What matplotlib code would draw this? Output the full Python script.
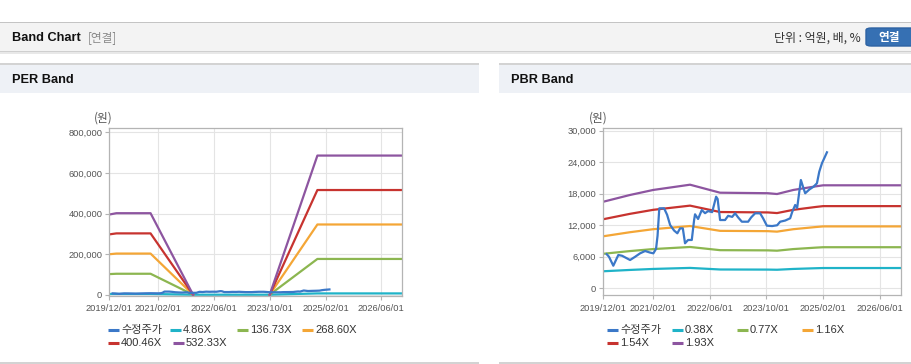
import matplotlib
matplotlib.use('Agg')
import matplotlib.pyplot as plt
import matplotlib.dates as mdates
from matplotlib.patches import Rectangle, FancyBboxPatch
from matplotlib.lines import Line2D
import numpy as np
import pandas as pd

plt.rcParams['font.family'] = ['Liberation Sans', 'Noto Sans CJK KR']

# ---------------- data ----------------
price_label = '수정주가'
price_dates = ['2019-12-30', '2020-01-19', '2020-02-25', '2020-04-08', '2020-05-10', '2020-06-13',
               '2020-07-18', '2020-08-30', '2020-10-12', '2020-11-24', '2021-01-06', '2021-02-03',
               '2021-02-26', '2021-03-11', '2021-03-26', '2021-05-06', '2021-06-01', '2021-06-27',
               '2021-07-31', '2021-08-28', '2021-09-20', '2021-10-14', '2021-11-02', '2021-11-28',
               '2021-12-30', '2022-01-19', '2022-01-27', '2022-02-22', '2022-03-26', '2022-04-23',
               '2022-05-19', '2022-06-23', '2022-07-27', '2022-08-09', '2022-08-30', '2022-10-12',
               '2022-11-07', '2022-12-12', '2023-01-06', '2023-02-01', '2023-03-05', '2023-04-28',
               '2023-05-24', '2023-06-27', '2023-08-09', '2023-09-04', '2023-10-06', '2023-11-20',
               '2024-01-02', '2024-01-28', '2024-03-11', '2024-04-23', '2024-05-10', '2024-06-05',
               '2024-06-22', '2024-07-24', '2024-08-09', '2024-08-30', '2024-10-04', '2024-11-10',
               '2024-12-09', '2024-12-29', '2025-01-21', '2025-03-05']
price_values = [6500, 6000, 4300, 6340, 6200, 5800,
                5390, 6000, 6660, 7100, 6800, 6660,
                7500, 10000, 15230, 15230, 14000, 12050,
                11000, 10470, 11400, 11420, 8570, 9200,
                9200, 13000, 14090, 13200, 14900, 14300,
                14700, 14500, 17440, 17000, 13000, 13000,
                13800, 13600, 14280, 13500, 12680, 12680,
                13500, 14280, 14280, 13300, 11920, 11850,
                12000, 12680, 12900, 13330, 14500, 15860,
                15300, 20620, 19500, 18090, 18800, 19350,
                19990, 22200, 23800, 25890]

per_band_labels = ['4.86X', '136.73X', '268.60X', '400.46X', '532.33X']
per_band_dates = ['2019-12-01', '2020-02-01', '2020-11-25', '2021-12-01',
                  '2022-11-01', '2023-10-01', '2024-11-20', '2026-12-01']
per_4_86 = [3606, 3666, 3666, 0, 0, 0, 6260, 6260]
per_136_73 = [101450, 103150, 103150, 0, np.nan, 0, 176110, 176110]
per_268_60 = [199300, 202630, 202630, 0, np.nan, 0, 345960, 345960]
per_400_46 = [297140, 302110, 302110, 0, np.nan, 0, 515790, 515790]
per_532_33 = [394990, 401590, 401590, 0, np.nan, 0, 685640, 685640]

pbr_band_labels = ['0.38X', '0.77X', '1.16X', '1.54X', '1.93X']
pbr_band_dates = ['2019-12-01', '2020-07-15', '2021-02-01', '2021-12-15', '2022-08-30', '2023-10-15',
                  '2024-01-01', '2024-05-20', '2024-12-01', '2025-02-01', '2026-12-01']
pbr_0_38 = [3245, 3496, 3686, 3884, 3583, 3564, 3534, 3686, 3823, 3861, 3861]
pbr_0_77 = [6576, 7084, 7469, 7869, 7261, 7223, 7161, 7469, 7746, 7823, 7823]
pbr_1_16 = [9906, 10672, 11252, 11855, 10939, 10881, 10788, 11252, 11670, 11786, 11786]
pbr_1_54 = [13152, 14168, 14938, 15739, 14522, 14445, 14322, 14938, 15492, 15646, 15646]
pbr_1_93 = [16482, 17756, 18721, 19725, 18200, 18103, 17949, 18721, 19416, 19609, 19609]

x_tick_labels = ['2019/12/01', '2021/02/01', '2022/06/01', '2023/10/01', '2025/02/01', '2026/06/01']
per_y_ticks = [0, 200000, 400000, 600000, 800000]
pbr_y_ticks = [0, 6000, 12000, 18000, 24000, 30000]

# ---------------- style ----------------
C_PRICE = '#3b78c8'
BAND_COLORS = ['#1fb3c8', '#8cb650', '#f4a636', '#c7332f', '#8d55a0']
W, H = 912, 364

fig = plt.figure(figsize=(W / 100, H / 100), dpi=100)
fig.patch.set_facecolor('white')


def fx(x):
    return x / W


def fy(y):
    return 1 - y / H


def rect(x0, y0, x1, y1, color, z=0):
    fig.add_artist(Rectangle((fx(x0), fy(y1)), fx(x1) - fx(x0), fy(y0) - fy(y1),
                             transform=fig.transFigure, facecolor=color,
                             edgecolor='none', zorder=z))


# header bar
rect(0, 21.5, W, 23, '#c4c4c4')
rect(0, 23, W, 51, '#f3f3f3')
rect(0, 51, W, 52.5, '#cfcfcf')
rect(0, 52.5, W, 54, '#e8e8e8')
fig.text(fx(12), fy(38), 'Band Chart', fontsize=9.2, fontweight='bold', color='#111',
         va='center', ha='left', family=['Liberation Sans Narrow', 'Liberation Sans'])
fig.text(fx(88), fy(38), '[연결]', fontsize=8.4, color='#888', va='center', ha='left',
         family=['Noto Sans CJK KR'])
fig.text(fx(861), fy(38), '단위 : 억원, 배, %', fontsize=8.6, color='#333', va='center',
         ha='right', family=['Noto Sans CJK KR'])
fig.add_artist(FancyBboxPatch((fx(866), fy(46)), fx(60), fy(28) - fy(46),
                              boxstyle='round,pad=0,rounding_size=0.006',
                              transform=fig.transFigure, facecolor='#3670b3',
                              edgecolor='#2e63a3', zorder=2))
fig.text(fx(889), fy(37.5), '연결', fontsize=8.4, fontweight='bold', color='white',
         va='center', ha='center', family=['Noto Sans CJK KR'], zorder=3)

# panel headers
for (x0, x1, title, tx) in [(0, 479, 'PER Band', 12), (499, W, 'PBR Band', 511)]:
    rect(x0, 63, x1, 65, '#d3d3d3')
    rect(x0, 65, x1, 92.5, '#eef1f6')
    rect(x0, 362, x1, 364, '#d3d3d3')
    fig.text(fx(tx), fy(80), title, fontsize=9.2, fontweight='bold', color='#111',
             va='center', ha='left', family=['Liberation Sans Narrow', 'Liberation Sans'])

xmin = pd.Timestamp('2019-12-01')
xmax = pd.Timestamp('2026-12-01')
tick_dates = [pd.Timestamp(t.replace('/', '-')) for t in x_tick_labels]


def setup_axes(ax, yticks, ylim):
    ax.set_xlim(xmin, xmax)
    ax.set_ylim(*ylim)
    ax.set_xticks(tick_dates)
    ax.set_xticklabels(x_tick_labels)
    ax.set_yticks(yticks)
    ax.set_yticklabels([f'{v:,}' for v in yticks])
    ax.grid(True, color='#e4e4e4', linewidth=0.8)
    ax.set_axisbelow(True)
    for s in ax.spines.values():
        s.set_color('#b4b4b4')
        s.set_linewidth(0.9)
    ax.tick_params(axis='both', labelsize=6.7, colors='#b4b4b4', labelcolor='#555',
                   length=3, width=0.8, pad=2)
    ax.tick_params(axis='x', pad=3)


def draw_legend(entries, positions):
    for (label, color), (x, y) in zip(entries, positions):
        fig.add_artist(Line2D([fx(x), fx(x + 11)], [fy(y), fy(y)], transform=fig.transFigure,
                              color=color, linewidth=2.2, solid_capstyle='butt'))
        fig.text(fx(x + 13), fy(y), label, fontsize=8.0, color='#333', va='center', ha='left',
                 family=['Liberation Sans', 'Noto Sans CJK KR'])


pdates = pd.to_datetime(price_dates)

# ---------------- PER ----------------
ax1 = fig.add_axes([fx(109.3), fy(295.7), (402.3 - 109.3) / W, (295.7 - 128.3) / H])
d1 = pd.to_datetime(per_band_dates)
per_series = [per_4_86, per_136_73, per_268_60, per_400_46, per_532_33]
for vals, c in zip(per_series, BAND_COLORS):
    ax1.plot(d1, vals, color=c, linewidth=1.6, solid_joinstyle='round')
ax1.plot(pdates, price_values, color=C_PRICE, linewidth=1.6, zorder=3)
setup_axes(ax1, per_y_ticks, (-5000, 820000))
fig.text(fx(103), fy(118), '(원)', fontsize=8.4, color='#555', va='center', ha='center',
         family=['Noto Sans CJK KR'])
draw_legend([(price_label, C_PRICE)] + list(zip(per_band_labels, BAND_COLORS)),
            [(108, 330), (170, 330), (237, 330), (302, 330), (108, 343), (173, 343)])

# ---------------- PBR ----------------
ax2 = fig.add_axes([fx(603.3), fy(295.3), (901 - 603.3) / W, (295.3 - 128.3) / H])
d2 = pd.to_datetime(pbr_band_dates)
pbr_series = [pbr_0_38, pbr_0_77, pbr_1_16, pbr_1_54, pbr_1_93]
for vals, c in zip(pbr_series, BAND_COLORS):
    ax2.plot(d2, vals, color=c, linewidth=1.6, solid_joinstyle='round')
ax2.plot(pdates, price_values, color=C_PRICE, linewidth=1.6, zorder=3)
setup_axes(ax2, pbr_y_ticks, (-1330, 30460))
fig.text(fx(598), fy(118), '(원)', fontsize=8.4, color='#555', va='center', ha='center',
         family=['Noto Sans CJK KR'])
draw_legend([(price_label, C_PRICE)] + list(zip(pbr_band_labels, BAND_COLORS)),
            [(607, 330), (672, 330), (737, 330), (802, 330), (607, 343), (672, 343)])

fig.savefig('out.png', dpi=100, facecolor='white')
